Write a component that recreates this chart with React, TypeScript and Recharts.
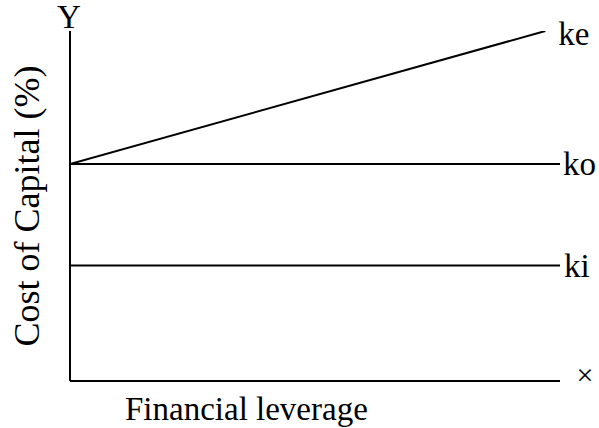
import React from "react";
import { LineChart, Line, XAxis, YAxis, Label } from "recharts";

const keX = [0, 9.7];
const keY = [62, 100];
const koX = [0, 10];
const koY = [62, 62];
const kiX = [0, 10];
const kiY = [33, 33];
const seriesNames = ["ke", "ko", "ki"];
const xAxisTitle = "Financial leverage";
const yAxisTitle = "Cost of Capital (%)";
const yAxisEnd = "Y";
const xAxisEnd = "×";

const toRows = (xs: number[], ys: number[]) => xs.map((x, i) => ({ x, y: ys[i] }));
const keData = toRows(keX, keY);
const koData = toRows(koX, koY);
const kiData = toRows(kiX, kiY);

const FONT = "Liberation Serif, Times New Roman, DejaVu Serif, serif";
const FS = 33;
const txtStyle: React.CSSProperties = { fontFamily: FONT, fontSize: FS, fill: "#000" };

const endLabel = (name: string, len: number, dx: number, dy: number) => (props: any) => {
  const { x, y, index } = props;
  if (index !== len - 1) return <g />;
  return (
    <text x={x + dx} y={y + dy} style={txtStyle} textAnchor="start">
      {name}
    </text>
  );
};

export default function App() {
  return (
    <div style={{ width: 599, height: 428, background: "#fff" }}>
      <style>{"body{margin:0}"}</style>
      <LineChart width={599} height={428} margin={{ top: 31, right: 39, bottom: 46, left: 69 }}>
        <XAxis
          type="number"
          dataKey="x"
          domain={[0, 10]}
          tick={false}
          tickLine={false}
          height={1}
          allowDataOverflow
          axisLine={{ stroke: "#000", strokeWidth: 2 }}
        >
          <Label
            content={(p: any) => {
              const vb = p.viewBox;
              return (
                <g>
                  <text x={vb.x + 55} y={vb.y + 39} style={txtStyle}>
                    {xAxisTitle}
                  </text>
                  <text x={vb.x + vb.width + 25} y={vb.y + 4} style={{ ...txtStyle, fontSize: 30 }} textAnchor="middle">
                    {xAxisEnd}
                  </text>
                </g>
              );
            }}
          />
        </XAxis>
        <YAxis
          type="number"
          domain={[0, 100]}
          tick={false}
          tickLine={false}
          width={1}
          allowDataOverflow
          axisLine={{ stroke: "#000", strokeWidth: 2 }}
        >
          <Label
            content={(p: any) => {
              const vb = p.viewBox;
              const cx = vb.x + vb.width - 43;
              const cy = vb.y + vb.height / 2;
              return (
                <g>
                  <text
                    x={cx}
                    y={cy}
                    transform={`rotate(-90 ${cx} ${cy})`}
                    style={{ ...txtStyle, fontSize: 36 }}
                    textAnchor="middle"
                    dominantBaseline="central"
                  >
                    {yAxisTitle}
                  </text>
                  <text x={vb.x + vb.width - 1} y={vb.y - 3} style={txtStyle} textAnchor="middle">
                    {yAxisEnd}
                  </text>
                </g>
              );
            }}
          />
        </YAxis>
        <Line
          data={keData}
          dataKey="y"
          stroke="#000"
          strokeWidth={2}
          dot={false}
          isAnimationActive={false}
          label={endLabel(seriesNames[0], keData.length, 13, 14)}
        />
        <Line
          data={koData}
          dataKey="y"
          stroke="#000"
          strokeWidth={2}
          dot={false}
          isAnimationActive={false}
          label={endLabel(seriesNames[1], koData.length, 3, 11)}
        />
        <Line
          data={kiData}
          dataKey="y"
          stroke="#000"
          strokeWidth={2}
          dot={false}
          isAnimationActive={false}
          label={endLabel(seriesNames[2], kiData.length, 4, 11)}
        />
      </LineChart>
    </div>
  );
}
